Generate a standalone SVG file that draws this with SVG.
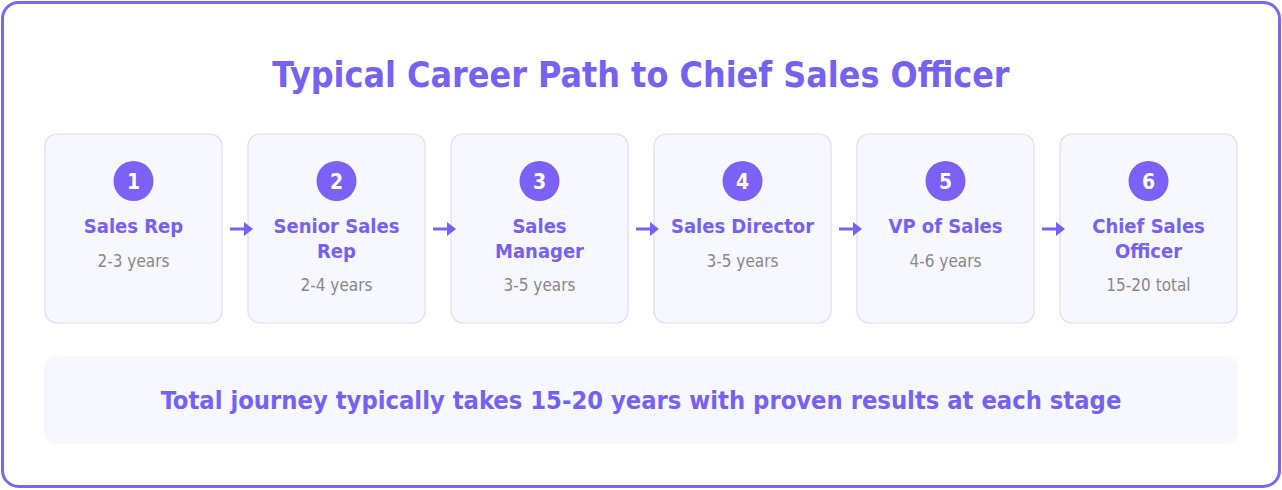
<svg xmlns="http://www.w3.org/2000/svg" width="1282" height="490" viewBox="0 0 1282 490">
<defs>
<style>
.box{fill:#f7f7ff;stroke:#dedbfb;stroke-width:1.2}
.num{fill:#7b61f5}
.numt{font-family:"DejaVu Sans Condensed","DejaVu Sans",sans-serif;font-stretch:condensed;font-weight:bold;font-size:21px;fill:#fff;text-anchor:middle}
.lbl{font-family:"DejaVu Sans Condensed","DejaVu Sans",sans-serif;font-stretch:condensed;font-weight:bold;font-size:20px;fill:#7561f2;text-anchor:middle}
.sub{font-family:"DejaVu Sans Condensed","DejaVu Sans",sans-serif;font-stretch:condensed;font-size:17px;fill:#888;text-anchor:middle}
.arr{stroke:#7561f2;stroke-width:3;fill:none}
</style>
<marker id="ah" markerWidth="9" markerHeight="14" refX="1" refY="7" orient="auto" markerUnits="userSpaceOnUse" viewBox="0 0 9 14">
<path d="M0,0 L9,7 L0,14 Z" fill="#7561f2"/>
</marker>
</defs>
<rect x="0" y="0" width="1282" height="490" fill="#fff"/>
<rect x="2.5" y="2.5" width="1277" height="484" rx="16" fill="#fff" stroke="#7b66f0" stroke-width="3"/>
<text x="641" y="87" font-family="DejaVu Sans Condensed,DejaVu Sans,sans-serif" font-stretch="condensed" font-weight="bold" font-size="35.5" fill="#7561f2" text-anchor="middle">Typical Career Path to Chief Sales Officer</text>

<g id="node1">
<rect class="box" x="45" y="134" width="177" height="189" rx="12"/>
<circle class="num" cx="133.5" cy="181" r="20"/>
<text class="numt" x="133.5" y="188.5">1</text>
<text class="lbl" x="133.5" y="233">Sales Rep</text>
<text class="sub" x="133.5" y="267">2-3 years</text>
</g>
<g id="node2">
<rect class="box" x="248" y="134" width="177" height="189" rx="12"/>
<circle class="num" cx="336.5" cy="181" r="20"/>
<text class="numt" x="336.5" y="188.5">2</text>
<text class="lbl" x="336.5" y="233">Senior Sales</text>
<text class="lbl" x="336.5" y="258">Rep</text>
<text class="sub" x="336.5" y="291">2-4 years</text>
</g>
<g id="node3">
<rect class="box" x="451" y="134" width="177" height="189" rx="12"/>
<circle class="num" cx="539.5" cy="181" r="20"/>
<text class="numt" x="539.5" y="188.5">3</text>
<text class="lbl" x="539.5" y="233">Sales</text>
<text class="lbl" x="539.5" y="258">Manager</text>
<text class="sub" x="539.5" y="291">3-5 years</text>
</g>
<g id="node4">
<rect class="box" x="654" y="134" width="177" height="189" rx="12"/>
<circle class="num" cx="742.5" cy="181" r="20"/>
<text class="numt" x="742.5" y="188.5">4</text>
<text class="lbl" x="742.5" y="233">Sales Director</text>
<text class="sub" x="742.5" y="267">3-5 years</text>
</g>
<g id="node5">
<rect class="box" x="857" y="134" width="177" height="189" rx="12"/>
<circle class="num" cx="945.5" cy="181" r="20"/>
<text class="numt" x="945.5" y="188.5">5</text>
<text class="lbl" x="945.5" y="233">VP of Sales</text>
<text class="sub" x="945.5" y="267">4-6 years</text>
</g>
<g id="node6">
<rect class="box" x="1060" y="134" width="177" height="189" rx="12"/>
<circle class="num" cx="1148.5" cy="181" r="20"/>
<text class="numt" x="1148.5" y="188.5">6</text>
<text class="lbl" x="1148.5" y="233">Chief Sales</text>
<text class="lbl" x="1148.5" y="258">Officer</text>
<text class="sub" x="1148.5" y="291">15-20 total</text>
</g>

<g id="connectors">
<line class="arr" x1="230" y1="229" x2="245" y2="229" marker-end="url(#ah)"/>
<line class="arr" x1="433" y1="229" x2="448" y2="229" marker-end="url(#ah)"/>
<line class="arr" x1="636" y1="229" x2="651" y2="229" marker-end="url(#ah)"/>
<line class="arr" x1="839" y1="229" x2="854" y2="229" marker-end="url(#ah)"/>
<line class="arr" x1="1042" y1="229" x2="1057" y2="229" marker-end="url(#ah)"/>
</g>

<g id="summary">
<rect x="44" y="356" width="1194" height="88" rx="12" fill="#f7f7ff"/>
<text x="641" y="409" font-family="DejaVu Sans Condensed,DejaVu Sans,sans-serif" font-stretch="condensed" font-weight="bold" font-size="25.3" fill="#7561f2" text-anchor="middle">Total journey typically takes 15-20 years with proven results at each stage</text>
</g>
</svg>
